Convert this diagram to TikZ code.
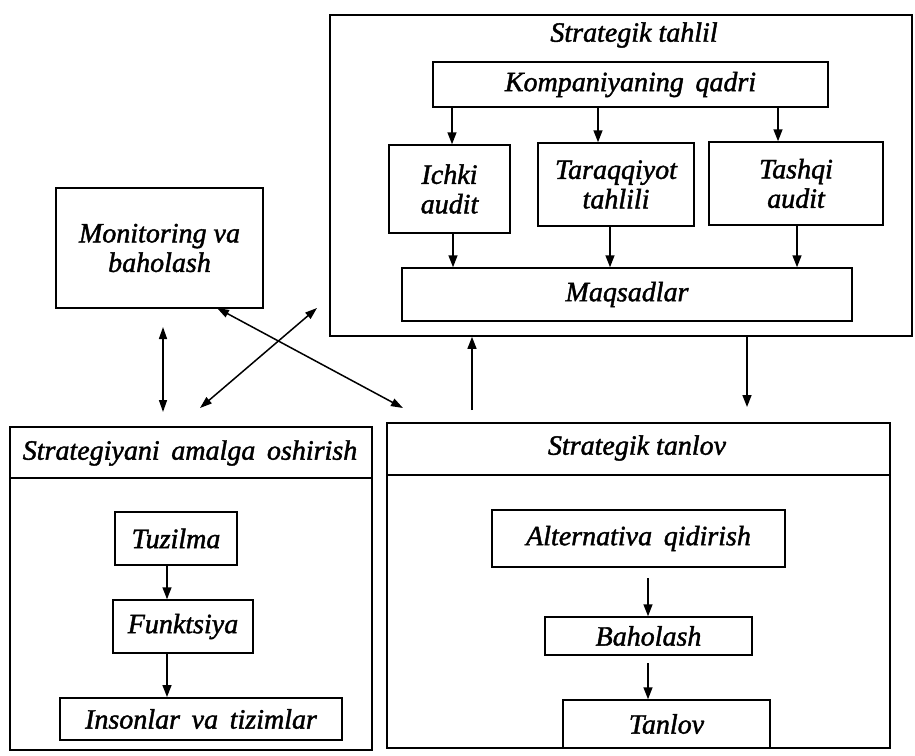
\documentclass[tikz,border=0pt]{standalone}
\usepackage{fontspec}
\setmainfont{Liberation Serif}[ItalicFeatures={FakeBold=1.5}]
\usetikzlibrary{arrows.meta}
\begin{document}
\begin{tikzpicture}[x=1pt,y=-1pt,
  every node/.style={font=\fontsize{28}{29.5}\selectfont\itshape, inner sep=0pt, align=center},
  box/.style={draw, line width=1.5pt},
  frame/.style={draw, line width=1.7pt},
  label/.style={draw=none},
  arr/.style={line width=1.5pt, -{Triangle[length=12pt,width=9pt]}},
  dbl/.style={line width=1.5pt, {Triangle[length=12pt,width=8pt]}-{Triangle[length=12pt,width=8pt]}},
  divider/.style={line width=1.5pt}
]
\useasboundingbox (0,0) rectangle (915,755);
\fill[white] (0,0) rectangle (915,755);

% Strategik tahlil
\node[frame, minimum width=582pt, minimum height=321pt] (T) at (621,175.5) {};
\node[label] (Ttitle) at (634,35) {Strategik tahlil};
\node[box, minimum width=395pt, minimum height=45pt] (kq) at (630.5,84.5) {Kompaniyaning\, qadri};
\node[box, minimum width=121pt, minimum height=88pt] (ichki) at (449.5,189) {Ichki\\audit};
\node[box, minimum width=156pt, minimum height=83pt] (tar) at (616,184.5) {Taraqqiyot\\tahlili};
\node[box, minimum width=174pt, minimum height=83pt] (tash) at (796,183.5) {Tashqi\\audit};
\node[box, minimum width=450pt, minimum height=53pt] (maq) at (627,294.5) {Maqsadlar};

\coordinate (c1) at ([xshift=2.5pt]ichki.north);
\coordinate (c2) at ([xshift=-18pt]tar.north);
\coordinate (c3) at ([xshift=-18pt]tash.north);
\draw[arr] (c1 |- kq.south) -- (c1);
\draw[arr] (c2 |- kq.south) -- (c2);
\draw[arr] (c3 |- kq.south) -- (c3);
\coordinate (e1) at ([xshift=3.5pt]ichki.south);
\coordinate (e2) at ([xshift=-6pt]tar.south);
\coordinate (e3) at ([xshift=1pt]tash.south);
\draw[arr] (e1) -- (e1 |- maq.north);
\draw[arr] (e2) -- (e2 |- maq.north);
\draw[arr] (e3) -- (e3 |- maq.north);

% Monitoring
\node[box, minimum width=207pt, minimum height=120pt] (mon) at (159.5,248) {Monitoring va\\baholash};

% Strategiyani amalga oshirish
\node[frame, minimum width=362pt, minimum height=323pt] (L) at (191,588.5) {};
\coordinate (Ldiv) at (0,478);
\draw[divider] (L.west |- Ldiv) -- (L.east |- Ldiv);
\node[label] (Ltitle) at (190,453) {Strategiyani\, amalga\, oshirish};
\node[box, minimum width=122pt, minimum height=53pt] (tuz) at (176,538.5) {Tuzilma};
\node[box, minimum width=140pt, minimum height=53pt] (fun) at (183,626.5) {Funktsiya};
\node[box, minimum width=282pt, minimum height=42pt] (ins) at (201,719) {Insonlar\, va\, tizimlar};
\coordinate (colL) at (167,0);
\draw[arr] (tuz.south -| colL) -- (fun.north -| colL);
\coordinate (f2) at (167,697);
\draw[arr] (fun.south -| colL) -- (f2);

% Strategik tanlov
\node[frame, minimum width=503pt, minimum height=325pt] (R) at (638.5,585.5) {};
\coordinate (Rdiv) at (0,475);
\draw[divider] (R.west |- Rdiv) -- (R.east |- Rdiv);
\node[label] (Rtitle) at (637,448) {Strategik tanlov};
\node[box, minimum width=293pt, minimum height=57pt] (alt) at (638.5,538.5) {Alternativa\, qidirish};
\node[box, minimum width=207pt, minimum height=38pt] (bah) at (648.5,636) {Baholash};
\node[box, minimum width=207pt, minimum height=48pt] (tan) at (666.5,724) {Tanlov};
\coordinate (a1) at (648,578);
\coordinate (a2) at (648,663);
\draw[arr] (a1) -- (a1 |- bah.north);
\draw[arr] (a2) -- (a2 |- tan.north);

% connectors between blocks
\coordinate (vA) at (163,327);
\coordinate (vB) at (163,412);
\draw[dbl] (vA) -- (vB);
\coordinate (dA1) at (217,308);
\coordinate (dA2) at (403,408);
\draw[dbl] (dA1) -- (dA2);
\coordinate (dB1) at (200,408);
\coordinate (dB2) at (317,308);
\draw[dbl] (dB1) -- (dB2);
\coordinate (u1) at (472,410);
\draw[arr] (u1) -- (u1 |- T.south);
\coordinate (d1) at (747,407);
\draw[arr] (d1 |- T.south) -- (d1);
\end{tikzpicture}
\end{document}
